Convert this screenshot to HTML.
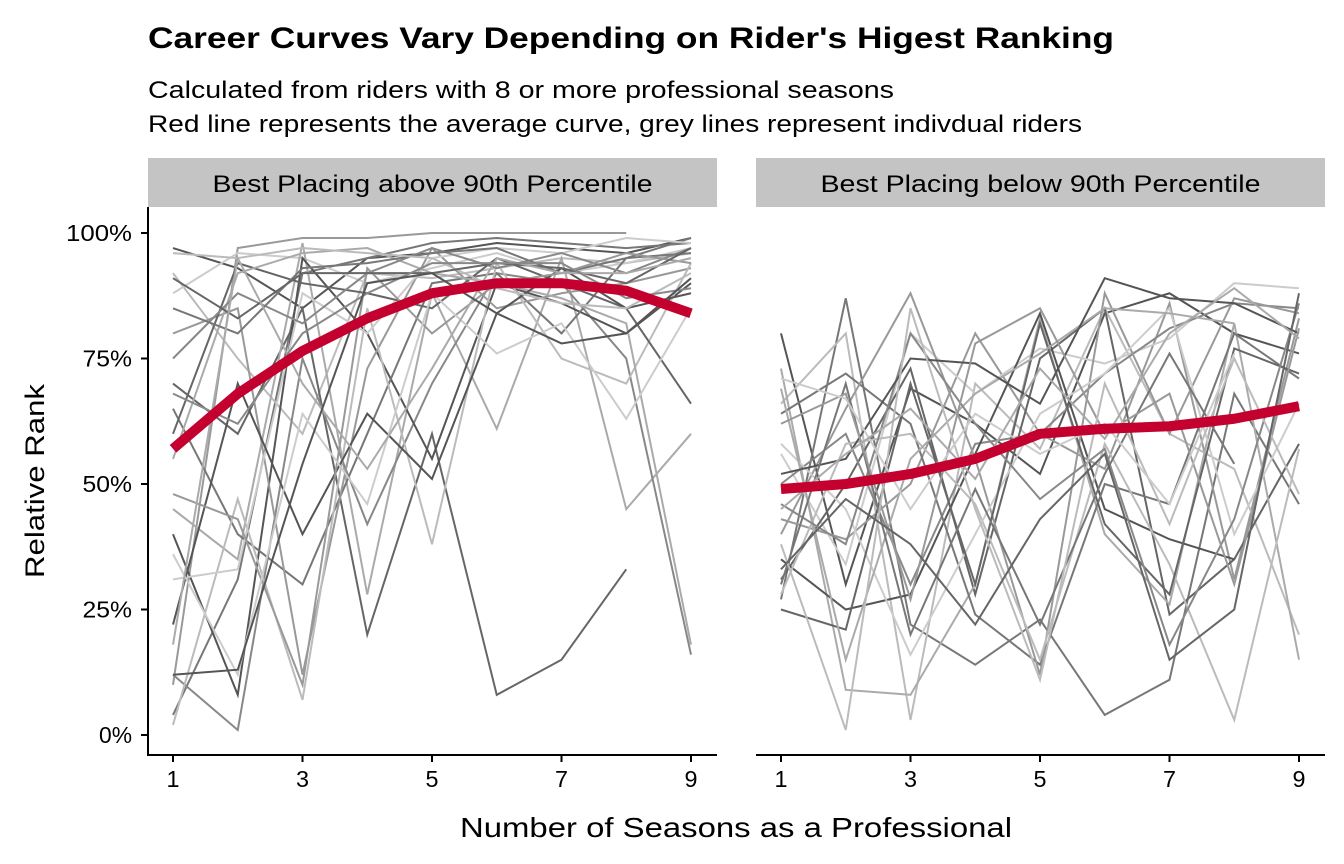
<!DOCTYPE html>
<html><head><meta charset="utf-8"><style>
body{margin:0;background:#fff;}
svg{display:block;font-family:"Liberation Sans",sans-serif;}
</style></head><body>
<svg id="chart" width="1344" height="864" viewBox="0 0 1344 864">
<text x="148" y="48" font-size="30" font-weight="bold" textLength="966" lengthAdjust="spacingAndGlyphs">Career Curves Vary Depending on Rider's Higest Ranking</text>
<text x="148" y="98" font-size="24" textLength="746" lengthAdjust="spacingAndGlyphs">Calculated from riders with 8 or more professional seasons</text>
<text x="148" y="132" font-size="24" textLength="934" lengthAdjust="spacingAndGlyphs">Red line represents the average curve, grey lines represent indivdual riders</text>
<text transform="translate(44,481) rotate(-90)" text-anchor="middle" font-size="27" textLength="194" lengthAdjust="spacingAndGlyphs">Relative Rank</text>
<text x="736" y="837" text-anchor="middle" font-size="28" textLength="552" lengthAdjust="spacingAndGlyphs">Number of Seasons as a Professional</text>
<g id="panels"></g>
</svg>
<script>
const seasons = [1,2,3,4,5,6,7,8,9];
const yTicks = [0,25,50,75,100];
const yTickLabels = ["0%","25%","50%","75%","100%"];
const xTicks = [1,3,5,7,9];
const panelTitles = ["Best Placing above 90th Percentile","Best Placing below 90th Percentile"];
const avgTop = [57,68,76.5,83,88,90,90,88.5,84];
const avgBottom = [49,50,52,55,60,61,61.5,63,65.5];
const ridersTop = [
 [97,93,85,95,96,98,97,96,99],[4,31,92,95,98,99,98,97,98],[10,97,99,99,100,100,100,100],
 [92,75,60,92,91,93,95,94,96],[88,96,95,90,93,96,92,94,97],[70,60,85,20,60,8,15,33],
 [45,35,98,28,88,61,95,45,60],[12,1,75,42,70,92,90,75,16],[40,8,95,80,55,90,86,80,90],
 [65,40,30,60,90,92,80,95,99],[80,85,12,73,97,85,88,90,93],[2,47,7,85,38,94,75,70,94],
 [31,33,88,80,95,97,96,99,98],[60,94,90,88,85,95,90,85,66],[55,92,96,97,92,90,87,82,18],
 [75,88,82,92,97,93,96,92,97],[22,70,40,64,51,84,93,85,88],[85,80,93,94,96,97,92,95,96],
 [48,43,10,93,80,90,92,96,94],[96,95,97,96,95,89,86,85,92],[36,12,64,46,88,76,82,63,85],
 [91,83,92,92,92,94,93,90,97],[18,95,70,53,73,95,92,92,95],[68,62,80,88,94,94,94,87,89],
 [12,13,54,90,92,84,78,80,91]
];
const ridersBottom = [
 [80,30,69,62,52,84,88,80,76],[27,87,22,14,23,4,11,68,46],[43,39,50,80,60,53,86,31,83],
 [66,80,3,70,57,85,60,53,20],[56,34,80,68,77,74,79,90,89],[31,50,73,28,75,85,24,35,58],
 [73,9,8,30,83,40,26,82,15],[50,60,30,58,60,72,81,86,85],[35,25,28,56,84,45,39,35],
 [64,72,62,24,14,50,46,80,71],[40,65,88,55,12,88,60,87,84],[28,58,60,46,15,58,34,3,57],
 [58,45,16,40,64,72,85,40,66],[25,21,70,30,82,42,28,77,72],[69,15,55,68,76,85,84,82],
 [46,38,80,62,47,57,18,43,86],[52,55,75,74,66,91,87,86,80],[30,70,20,49,22,52,76,54],
 [62,68,27,78,85,60,68,30,81],[38,1,85,45,11,70,42,75,48],[71,67,45,64,56,62,46,76],
 [33,47,38,22,43,56,15,25,88],[45,56,65,51,73,59,80,89,79]
];
const greys = ["#555","#777","#999","#bbb","#ccc","#666","#aaa","#888"];
const NS="http://www.w3.org/2000/svg";
const g=document.getElementById('panels');
function mk(tag,attrs,parent){const e=document.createElementNS(NS,tag);for(const k in attrs)e.setAttribute(k,attrs[k]);(parent||g).appendChild(e);return e;}
const yScale=v=>735-v*5.02;
const panels=[{x0:148,data:ridersTop,avg:avgTop,name:"above"},{x0:756,data:ridersBottom,avg:avgBottom,name:"below"}];
panels.forEach((p,pi)=>{
 const xScale=s=>p.x0+25+(s-1)*64.75;
 const pg=mk('g',{});
 
 
 const strip=mk('rect',{x:p.x0,y:158,width:569,height:49,fill:'#c4c4c4'},pg);
 
 
 const st=mk('text',{x:p.x0+284.5,y:192,'text-anchor':'middle','font-size':24,textLength:440,lengthAdjust:'spacingAndGlyphs'},pg);
 st.textContent=panelTitles[pi];
 
 
 p.data.forEach((r,ri)=>{
  const pts=r.map((v,i)=>xScale(seasons[i])+','+yScale(v)).join(' ');
  const l=mk('polyline',{points:pts,fill:'none',stroke:greys[ri%greys.length],'stroke-width':2},pg);
  
  
 });
 const ap=p.avg.map((v,i)=>xScale(seasons[i])+','+yScale(v)).join(' ');
 const al=mk('polyline',{points:ap,fill:'none',stroke:'#c4002f','stroke-width':10,'stroke-linejoin':'round','stroke-linecap':'butt'},pg);
 
 
 const xa=mk('line',{x1:p.x0,x2:p.x0+569,y1:755,y2:755,stroke:'#000','stroke-width':2},pg);
 
 
 xTicks.forEach(t=>{
  mk('line',{x1:xScale(t),x2:xScale(t),y1:755,y2:762,stroke:'#000','stroke-width':2},pg);
  const tl=mk('text',{x:xScale(t),y:787,'text-anchor':'middle','font-size':23,textLength:13,lengthAdjust:'spacingAndGlyphs'},pg);
  tl.textContent=t;
  
  
 });
 if(pi===0){
  const ya=mk('line',{x1:148,x2:148,y1:207,y2:756,stroke:'#000','stroke-width':2},pg);
  
  
  yTicks.forEach((t,i)=>{
   mk('line',{x1:141,x2:148,y1:yScale(t),y2:yScale(t),stroke:'#000','stroke-width':2},pg);
   const lab=yTickLabels[i];
   const tl=mk('text',{x:132,y:yScale(t)+8,'text-anchor':'end','font-size':23,textLength:lab.length*16.5,lengthAdjust:'spacingAndGlyphs'},pg);
   tl.textContent=lab;
   
   
  });
 }
});
</script>
</body></html>
